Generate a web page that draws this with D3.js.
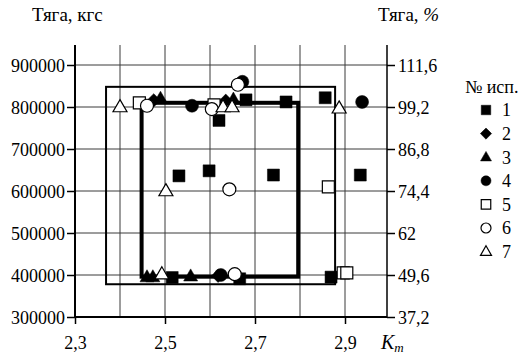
<!DOCTYPE html>
<html>
<head>
<meta charset="utf-8">
<script src="https://cdn.jsdelivr.net/npm/d3@7"></script>
<style>
  html, body { margin: 0; padding: 0; background: #fff; }
  svg { display: block; }
  svg text { font-family: "Liberation Serif", "Times New Roman", serif; fill: #000; }
</style>
</head>
<body>
<svg id="chart" width="530" height="354"></svg>
<script>
// Тяга vs K_m, seven test runs
const FONT = "'Liberation Serif', 'Times New Roman', serif";
const xTicks = [2.3, 2.5, 2.7, 2.9];
const xGrid = [2.4, 2.5, 2.6, 2.7, 2.8, 2.9];
const yTicks = [300000, 400000, 500000, 600000, 700000, 800000, 900000];
const pctLabels = ["37,2", "49,6", "62", "74,4", "86,8", "99,2", "111,6"];

// each run: [K_m, thrust kgf]
const run1 = [[2.531, 636000], [2.598, 648000], [2.62, 768000], [2.68, 817000], [2.769, 812000],
              [2.856, 822000], [2.741, 638000], [2.934, 638000], [2.516, 394000], [2.666, 391000], [2.869, 395000]];
const run2 = [[2.475, 816000], [2.635, 815000], [2.618, 398000]];
const run3 = [[2.49, 820000], [2.652, 818000], [2.46, 395000], [2.473, 395000], [2.557, 397000]];
const run4 = [[2.56, 803000], [2.672, 860000], [2.938, 812000], [2.624, 400000]];
const run5 = [[2.443, 810000], [2.609, 805000], [2.863, 610000], [2.896, 405000], [2.904, 405000]];
const run6 = [[2.46, 803000], [2.662, 853000], [2.604, 795000], [2.643, 604000], [2.655, 402000]];
const run7 = [[2.40, 800000], [2.629, 800000], [2.649, 800000], [2.887, 797000], [2.502, 600000], [2.493, 402000]];

const runNames = ["1", "2", "3", "4", "5", "6", "7"];
const runShapes = ["square", "diamond", "triangle", "circle", "square", "circle", "triangle"];
const runFilled = [true, true, true, true, false, false, false];
const runs = [run1, run2, run3, run4, run5, run6, run7];

// operating envelopes: [K_m min, K_m max, thrust min, thrust max]
const outerBox = [2.369, 2.878, 378000, 848000];
const innerBox = [2.448, 2.796, 396000, 810000];

const svg = d3.select("#chart");
const x = d3.scaleLinear().domain([2.3, 2.9]).range([75, 345]);
const y = d3.scaleLinear().domain([300000, 900000]).range([317, 65]);
const xEnd = 387, yTop = 45;

// grid
const g = svg.append("g");
g.selectAll(".vg").data(xGrid).join("line")
  .attr("x1", d => x(d)).attr("x2", d => x(d))
  .attr("y1", yTop).attr("y2", y(300000))
  .attr("stroke", "#3a3a3a").attr("stroke-width", 1);
g.selectAll(".hg").data(yTicks.slice(1)).join("line")
  .attr("x1", x(2.3)).attr("x2", xEnd)
  .attr("y1", d => y(d)).attr("y2", d => y(d))
  .attr("stroke", "#3a3a3a").attr("stroke-width", 1);

// axes
const fmtComma = d => String(d).replace(".", ",");
const left = svg.append("g").attr("transform", `translate(${x(2.3)},0)`)
  .call(d3.axisLeft(y).tickValues(yTicks).tickSize(8).tickSizeOuter(0).tickFormat(d3.format("d")));
const right = svg.append("g").attr("transform", `translate(${xEnd},0)`)
  .call(d3.axisRight(y).tickValues(yTicks).tickSize(8).tickSizeOuter(0).tickFormat((d, i) => pctLabels[i]));
const bottom = svg.append("g").attr("transform", `translate(0,${y(300000)})`)
  .call(d3.axisBottom(x).tickValues(xTicks).tickSize(7).tickSizeOuter(0).tickFormat(d => fmtComma(d.toFixed(1))));

[left, right, bottom].forEach(a => {
  a.attr("font-family", FONT).attr("font-size", 18);
  a.select(".domain").remove();
  a.selectAll("line").attr("stroke", "#000").attr("stroke-width", 1.5);
  a.selectAll("text").attr("font-size", 18).style("font-family", FONT);
});
left.selectAll("text").attr("x", -10).attr("dy", "0.35em");
right.selectAll("text").attr("x", 11).attr("dy", "0.35em");
bottom.selectAll("text").attr("y", 19).attr("dy", "0.71em");

svg.append("line").attr("x1", x(2.3)).attr("x2", x(2.3)).attr("y1", yTop).attr("y2", y(300000) + 1)
  .attr("stroke", "#000").attr("stroke-width", 2);
svg.append("line").attr("x1", xEnd).attr("x2", xEnd).attr("y1", yTop).attr("y2", y(300000) + 1)
  .attr("stroke", "#000").attr("stroke-width", 1.5);
svg.append("line").attr("x1", x(2.3) - 1).attr("x2", xEnd).attr("y1", y(300000)).attr("y2", y(300000))
  .attr("stroke", "#000").attr("stroke-width", 2);

// envelopes
svg.append("rect")
  .attr("x", x(outerBox[0])).attr("y", y(outerBox[3]))
  .attr("width", x(outerBox[1]) - x(outerBox[0])).attr("height", y(outerBox[2]) - y(outerBox[3]))
  .attr("fill", "none").attr("stroke", "#000").attr("stroke-width", 2);
svg.append("rect")
  .attr("x", x(innerBox[0])).attr("y", y(innerBox[3]))
  .attr("width", x(innerBox[1]) - x(innerBox[0])).attr("height", y(innerBox[2]) - y(innerBox[3]))
  .attr("fill", "none").attr("stroke", "#000").attr("stroke-width", 4);

// marker factory
function symbolPath(shape, s) {
  if (shape === "square") return d3.symbol(d3.symbolSquare, s * s)();
  if (shape === "circle") return d3.symbol(d3.symbolCircle, Math.PI * s * s / 4)();
  if (shape === "triangle") return d3.symbol(d3.symbolTriangle, Math.sqrt(3) / 4 * s * s)();
  return d3.symbol(d3.symbolSquare, (s * 0.72) * (s * 0.72))();
}
function drawMarker(sel, shape, filled, s) {
  sel.append("path")
    .attr("d", symbolPath(shape, s))
    .attr("transform", (shape === "diamond" ? "rotate(45)" : "") + (shape === "triangle" ? ` translate(0,${s * 0.05})` : ""))
    .attr("fill", filled ? "#000" : "#fff")
    .attr("stroke", "#000").attr("stroke-width", filled ? 0.5 : 1.2);
}

const sizes = { square: 12, circle: 13, triangle: 14, diamond: 13 };
const marks = svg.append("g");
runs.forEach((run, i) => {
  marks.selectAll(null).data(run).join("g")
    .attr("transform", d => `translate(${x(d[0])},${y(d[1])})`)
    .each(function () { drawMarker(d3.select(this), runShapes[i], runFilled[i], sizes[runShapes[i]]); });
});

// titles
svg.append("text").attr("x", 32).attr("y", 21).attr("font-size", 19).style("font-family", FONT).text("Тяга, кгс");
const rt = svg.append("text").attr("x", 378).attr("y", 21).attr("font-size", 19).style("font-family", FONT);
rt.append("tspan").text("Тяга, ");
rt.append("tspan").attr("font-style", "italic").text("%");

const km = svg.append("text").attr("x", 381).attr("y", 349).attr("font-size", 20).style("font-family", FONT).attr("font-style", "italic");
km.append("tspan").text("K");
km.append("tspan").attr("font-size", 13).attr("dy", 3).text("m");

// legend
const leg = svg.append("g");
leg.append("text").attr("x", 465).attr("y", 93).attr("font-size", 18).style("font-family", FONT).text("№ исп.");
const legSizes = { square: 9.5, circle: 10, triangle: 11, diamond: 11 };
runNames.forEach((n, i) => {
  const row = leg.append("g").attr("transform", `translate(486,${110 + i * 23.6})`);
  drawMarker(row, runShapes[i], runFilled[i], legSizes[runShapes[i]]);
  row.append("text").attr("x", 16).attr("dy", "0.35em").attr("font-size", 18).style("font-family", FONT).text(n);
});
</script>
</body>
</html>
